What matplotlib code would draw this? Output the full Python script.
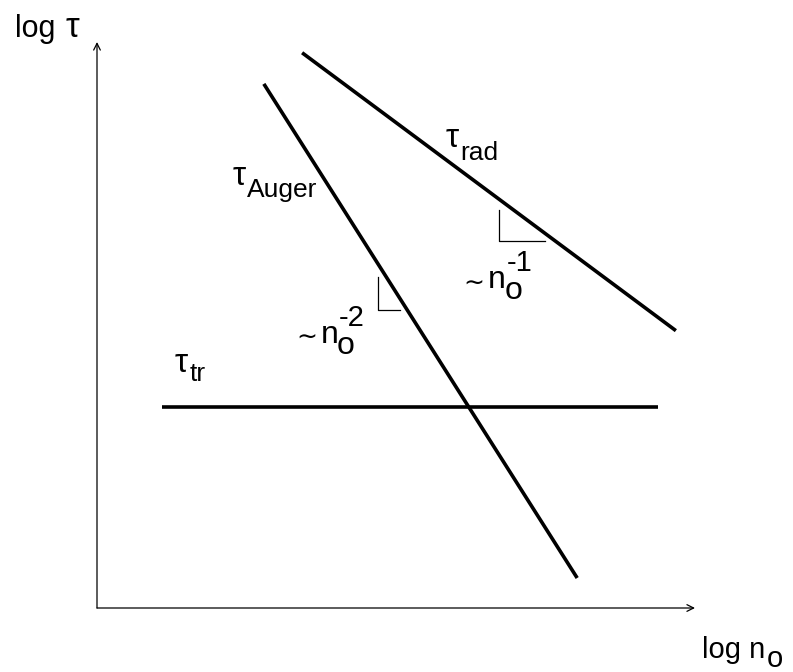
import matplotlib
matplotlib.use("Agg")
import matplotlib.pyplot as plt
from matplotlib.transforms import offset_copy

plt.rcParams['font.family'] = ['Liberation Sans', 'DejaVu Sans']

# schematic data (arbitrary log units)
rad_x = [3.43, 9.68]
rad_y = [9.81, 4.90]
auger_x = [2.79, 8.03]
auger_y = [9.26, 0.53]
tr_x = [1.09, 9.38]
tr_y = [3.55, 3.55]
# slope triangles
tri_rad_x = [6.72, 6.72, 7.49]
tri_rad_y = [7.03, 6.48, 6.48]
tri_aug_x = [4.70, 4.70, 5.07]
tri_aug_y = [5.85, 5.27, 5.27]

W, H = 793, 672
fig = plt.figure(figsize=(W / 100, H / 100), dpi=100)
x0, y0, x1, y1 = 97, 608, 695, 42
ax = fig.add_axes([x0 / W, (H - y0) / H, (x1 - x0) / W, (y0 - y1) / H])
ax.set_xlim(0, 10)
ax.set_ylim(0, 10)
ax.axis('off')

# axes with arrows
arrow = dict(arrowstyle='->', lw=0.9, color='black', mutation_scale=12,
             shrinkA=0, shrinkB=0)
ax.annotate('', xy=(10, 0), xytext=(0, 0), arrowprops=arrow, annotation_clip=False)
ax.annotate('', xy=(0, 10), xytext=(0, 0), arrowprops=arrow, annotation_clip=False)

lw = 2.6
ax.plot(rad_x, rad_y, color='black', lw=lw, solid_capstyle='butt')
ax.plot(auger_x, auger_y, color='black', lw=lw, solid_capstyle='butt')
ax.plot(tr_x, tr_y, color='black', lw=lw, solid_capstyle='butt')
ax.plot(tri_rad_x, tri_rad_y, color='black', lw=0.9)
ax.plot(tri_aug_x, tri_aug_y, color='black', lw=0.9)


def piece(x, y, s, dx=0, dy=0, size=20, va='baseline'):
    tr = offset_copy(ax.transData, fig=fig, x=dx, y=dy, units='dots')
    ax.text(x, y, s, transform=tr, fontsize=size, ha='left', va=va,
            clip_on=False)


# axis labels
piece(-1.37, 10.09, 'log', size=22)
piece(-1.37, 10.09, 'τ', dx=50, size=25)
piece(10.12, -0.88, 'log n', size=21)
piece(10.12, -0.88, 'o', dx=65, dy=-9, size=21)

# curve labels
TAU = 24
SUB = 19
piece(5.85, 8.14, 'τ', dx=-1, size=TAU)
piece(5.85, 8.14, 'rad', dx=13, dy=-13, size=SUB)
piece(2.26, 7.47, 'τ', size=TAU)
piece(2.26, 7.47, 'Auger', dx=15, dy=-12, size=SUB)
piece(1.30, 4.17, 'τ', size=TAU)
piece(1.30, 4.17, 'tr', dx=15, dy=-9, size=SUB)

# slope labels
for (ax_, ay_, exp) in [(6.56, 5.65, '-1'), (3.76, 4.68, '-2')]:
    piece(ax_, ay_, '∼', dx=-26, dy=5, size=18, va='center')
    piece(ax_, ay_, 'n', dx=-1, size=23)
    piece(ax_, ay_, 'o', dx=15, dy=-11, size=23)
    piece(ax_, ay_, exp, dx=17, dy=17, size=21)

fig.savefig('out.png', dpi=100)
